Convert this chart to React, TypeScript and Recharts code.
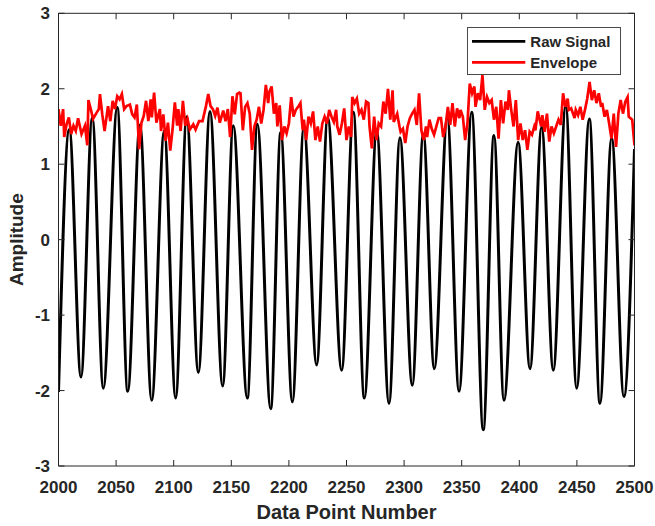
import React from 'react';
import { LineChart, Line, XAxis, YAxis, Legend } from 'recharts';

const AXIS = '#262626';
const FONT = '"Liberation Sans", Arial, Helvetica, sans-serif';

const xTicks = [2000, 2050, 2100, 2150, 2200, 2250, 2300, 2350, 2400, 2450, 2500];
const yTicks = [-3, -2, -1, 0, 1, 2, 3];
const xDomain = [2000, 2500];
const yDomain = [-3, 3];

const seriesNames = ['Raw Signal', 'Envelope'];
const seriesColors = ['#000000', '#ff0000'];

// Raw signal: start, alternating peaks and troughs, end
const rawPoints: [number, number][] = [
  [2000, -2.02], [2009.4, 1.46], [2019.5, -1.82], [2029.3, 1.62], [2038.9, -1.97],
  [2051, 1.75], [2060.1, -2.01], [2070.7, 1.52], [2080.9, -2.13], [2091.8, 1.44],
  [2101.7, -2.1], [2111.3, 1.63], [2121.4, -1.76], [2131.5, 1.7], [2142.5, -1.94],
  [2151.7, 1.51], [2163.9, -2.1], [2172.6, 1.53], [2184.2, -2.24], [2192.9, 1.42],
  [2203, -2.15], [2213, 1.49], [2224.1, -1.66], [2233.7, 1.62], [2245.8, -1.73],
  [2255.9, 1.69], [2265.5, -2.1], [2276.2, 1.44], [2286.9, -2.17], [2296.4, 1.35],
  [2307.1, -1.93], [2316.7, 1.4], [2326.2, -1.71], [2337.5, 1.62], [2347.7, -2.01],
  [2358.7, 1.69], [2368.7, -2.52], [2378, 1.38], [2386.7, -2.13], [2399, 1.29],
  [2409.3, -1.71], [2419.4, 1.49], [2429.5, -1.73], [2440.3, 1.77], [2449.8, -1.97],
  [2460.8, 1.6], [2470, -2.17], [2480.2, 1.35], [2490.8, -2.08], [2500, 1.2],
];

// Envelope, read in three stretches
const envelopeA: [number, number][] = [
  [2000, 1.73], [2002, 1.51], [2004, 1.73], [2005, 1.36], [2007, 1.53], [2009, 1.62],
  [2011, 1.4], [2013, 1.51], [2015, 1.44], [2017, 1.61], [2020, 1.4], [2023, 1.51],
  [2025, 1.25], [2026, 1.85], [2028, 1.73], [2030, 1.6], [2033, 1.68], [2035, 1.73],
  [2036, 1.93], [2038, 1.66], [2040, 1.44], [2043, 1.77], [2045, 1.57], [2047, 1.84],
  [2049, 1.73], [2051, 1.9], [2053, 1.86], [2055, 1.93], [2057, 1.73], [2059, 1.77],
  [2062, 1.79], [2064, 1.66], [2066, 1.62], [2068, 1.79], [2070, 1.2], [2072, 1.55],
  [2074, 1.64], [2076, 1.84], [2078, 1.57], [2080, 1.86], [2081, 1.62], [2083, 1.95],
  [2085, 1.55], [2088, 1.73], [2089, 1.44], [2091, 1.66], [2093, 1.31], [2095, 1.55],
  [2097, 1.18], [2099, 1.46], [2101, 1.82], [2103, 1.51], [2104, 1.73], [2106, 1.44],
  [2108, 1.84], [2110, 1.51], [2112, 1.6], [2114, 1.46], [2117, 1.53], [2119, 1.46],
  [2122, 1.57], [2125, 1.57], [2128, 1.77], [2130, 1.93], [2132, 1.77], [2134, 1.73],
  [2136, 1.64], [2138, 1.75], [2140, 1.55], [2143, 1.71], [2145, 1.57], [2147, 1.73],
  [2149, 1.36], [2151, 1.9], [2153, 1.66], [2155, 1.93], [2157, 1.95],
];
const envelopeB: [number, number][] = [
  [2158, 1.94], [2160, 1.45], [2162, 1.76], [2164, 1.81], [2166, 1.67], [2168, 1.19],
  [2170, 1.5], [2172, 1.59], [2174, 1.76], [2176, 1.54], [2178, 1.72], [2180, 2.05],
  [2182, 1.81], [2183, 1.96], [2185, 2.03], [2187, 1.67], [2189, 1.81], [2190, 1.5],
  [2192, 1.78], [2194, 1.32], [2196, 1.5], [2198, 1.41], [2200, 1.54], [2202, 1.89],
  [2204, 1.63], [2206, 1.72], [2208, 1.76], [2210, 1.81], [2212, 1.45], [2213, 1.59],
  [2215, 1.32], [2217, 1.63], [2219, 1.54], [2221, 1.7], [2223, 1.32], [2225, 1.5],
  [2227, 1.3], [2229, 1.54], [2231, 1.63], [2233, 1.54], [2235, 1.72], [2237, 1.63],
  [2239, 1.56], [2241, 1.72], [2242, 1.5], [2244, 1.39], [2246, 1.54], [2248, 1.74],
  [2250, 1.32], [2252, 1.5], [2254, 1.36], [2255, 1.89], [2257, 1.81], [2259, 1.87],
  [2261, 1.67], [2263, 1.72], [2265, 1.59], [2267, 1.83], [2269, 1.81], [2270, 1.5],
  [2272, 1.21], [2274, 1.63], [2276, 1.32], [2278, 1.54], [2280, 1.5], [2282, 1.83],
  [2284, 1.67], [2286, 2.0], [2288, 1.59], [2290, 1.98], [2291, 1.56], [2294, 1.67],
  [2296, 1.5], [2297, 1.43], [2299, 1.47], [2301, 1.28], [2303, 1.5], [2305, 1.61],
  [2307, 1.67], [2309, 1.72], [2311, 1.52], [2313, 1.94], [2315, 1.45], [2317, 1.32],
  [2319, 1.5], [2320, 1.36], [2322, 1.59], [2324, 1.47], [2326, 1.39], [2328, 1.5],
  [2330, 1.61],
];
const envelopeC: [number, number][] = [
  [2332, 1.61], [2334, 1.36], [2336, 1.5], [2338, 1.76], [2340, 1.52], [2342, 1.81],
  [2344, 1.5], [2346, 1.74], [2348, 1.61], [2349, 1.72], [2351, 1.63], [2353, 1.32],
  [2355, 1.54], [2357, 2.07], [2359, 1.94], [2361, 2.03], [2362, 1.76], [2364, 1.94],
  [2366, 1.85], [2368, 2.18], [2370, 1.72], [2372, 1.89], [2374, 1.81], [2376, 1.85],
  [2378, 1.59], [2380, 1.76], [2382, 1.34], [2384, 1.85], [2386, 1.54], [2388, 1.83],
  [2390, 1.72], [2391, 1.98], [2393, 1.72], [2395, 1.5], [2397, 1.85], [2399, 1.32],
  [2401, 1.54], [2403, 1.32], [2405, 1.45], [2407, 1.19], [2409, 1.43], [2411, 1.39],
  [2413, 1.5], [2414, 1.45], [2416, 1.7], [2419, 1.5], [2420, 1.65], [2422, 1.43],
  [2424, 1.67], [2426, 1.3], [2428, 1.5], [2430, 1.41], [2432, 1.5], [2434, 1.59],
  [2436, 1.52], [2438, 1.94], [2440, 1.76], [2442, 1.87], [2443, 1.72], [2445, 1.74],
  [2448, 1.61], [2449, 1.72], [2451, 1.65], [2453, 1.76], [2455, 1.59], [2457, 1.72],
  [2459, 1.87], [2461, 2.09], [2463, 1.85], [2465, 1.98], [2467, 1.81], [2469, 1.94],
  [2471, 1.76], [2472, 1.81], [2474, 1.63], [2476, 1.72], [2478, 1.54], [2480, 1.34],
  [2482, 1.67], [2484, 1.23], [2486, 1.67], [2488, 1.85], [2490, 1.67], [2492, 1.83],
  [2494, 1.89], [2495, 1.63], [2498, 1.59], [2500, 1.25],
];

const toRows = (pts: [number, number][]) => pts.map(([x, y]) => ({ x, y }));
const rawData = toRows(rawPoints);
const envelopeData = toRows([...envelopeA, ...envelopeB, ...envelopeC]);

const TICK_LEN = 6;

const BottomTick = (props: any) => {
  const { x, y, payload } = props;
  return (
    <g>
      <line x1={x} y1={y} x2={x} y2={y - TICK_LEN} stroke={AXIS} strokeWidth={1} />
      <text x={x} y={y + 26.5} textAnchor="middle" fill={AXIS} fontSize={17} fontWeight="bold" fontFamily={FONT}>
        {payload.value}
      </text>
    </g>
  );
};
const TopTick = (props: any) => {
  const { x, y } = props;
  return <line x1={x} y1={y} x2={x} y2={y + TICK_LEN} stroke={AXIS} strokeWidth={1} />;
};
const LeftTick = (props: any) => {
  const { x, y, payload } = props;
  return (
    <g>
      <line x1={x} y1={y} x2={x + TICK_LEN} y2={y} stroke={AXIS} strokeWidth={1} />
      <text x={x - 8.5} y={y} dy="0.36em" textAnchor="end" fill={AXIS} fontSize={17} fontWeight="bold" fontFamily={FONT}>
        {payload.value}
      </text>
    </g>
  );
};
const RightTick = (props: any) => {
  const { x, y } = props;
  return <line x1={x} y1={y} x2={x - TICK_LEN} y2={y} stroke={AXIS} strokeWidth={1} />;
};

const XTitle = (props: any) => {
  const vb = props.viewBox || { x: 58.5, y: 466, width: 576, height: 60 };
  return (
    <text x={vb.x + vb.width / 2} y={vb.y + vb.height - 7} textAnchor="middle" fill={AXIS} fontSize={20} fontWeight="bold" fontFamily={FONT}>
      Data Point Number
    </text>
  );
};
const YTitle = (props: any) => {
  const vb = props.viewBox || { x: 0, y: 13.3, width: 58.5, height: 452.7 };
  const cx = 23.5;
  const cy = vb.y + vb.height / 2;
  return (
    <text x={cx} y={cy} transform={`rotate(-90, ${cx}, ${cy})`} textAnchor="middle" fill={AXIS} fontSize={19} fontWeight="bold" fontFamily={FONT}>
      Amplitude
    </text>
  );
};

const LegendBox = () => {
  return (
    <div style={{ width: 154.5, height: 47.7, boxSizing: 'border-box', border: '1px solid #4a4a4a', background: '#ffffff' }}>
      <svg width={152.5} height={45.7} style={{ display: 'block' }}>
        {seriesNames.map((name, i) => {
          const cy = 13.4 + i * 21;
          return (
            <g key={name}>
              <line x1={4} y1={cy} x2={57.3} y2={cy} stroke={seriesColors[i]} strokeWidth={2.8} />
              <text x={62.3} y={cy} dy="0.36em" fill={AXIS} fontSize={15} fontWeight="bold" fontFamily={FONT}>
                {name}
              </text>
            </g>
          );
        })}
      </svg>
    </div>
  );
};

export default function App() {
  return (
    <div style={{ width: 655, height: 526, background: '#ffffff' }}>
      <style>{'html, body { margin: 0; padding: 0; background: #ffffff; }'}</style>
      <LineChart
        width={655}
        height={526}
        margin={{ top: 12.3, right: 19.5, bottom: 0, left: 0 }}
      >
        <XAxis
          xAxisId="bottom"
          type="number"
          dataKey="x"
          domain={xDomain}
          ticks={xTicks}
          allowDataOverflow
          height={60}
          tickSize={0}
          tickMargin={0}
          tickLine={false}
          tick={<BottomTick />}
          axisLine={{ stroke: AXIS, strokeWidth: 1 }}
          label={<XTitle />}
        />
        <XAxis
          xAxisId="top"
          orientation="top"
          type="number"
          dataKey="x"
          domain={xDomain}
          ticks={xTicks}
          allowDataOverflow
          height={1}
          tickSize={0}
          tickMargin={0}
          tickLine={false}
          tick={<TopTick />}
          axisLine={{ stroke: AXIS, strokeWidth: 1 }}
        />
        <YAxis
          yAxisId="left"
          type="number"
          domain={yDomain}
          ticks={yTicks}
          allowDataOverflow
          width={58.5}
          tickSize={0}
          tickMargin={0}
          tickLine={false}
          tick={<LeftTick />}
          axisLine={{ stroke: AXIS, strokeWidth: 1 }}
          label={<YTitle />}
        />
        <YAxis
          yAxisId="right"
          orientation="right"
          type="number"
          domain={yDomain}
          ticks={yTicks}
          allowDataOverflow
          width={1}
          tickSize={0}
          tickMargin={0}
          tickLine={false}
          tick={<RightTick />}
          axisLine={{ stroke: AXIS, strokeWidth: 1 }}
        />
        <Legend
          layout="vertical"
          align="center"
          verticalAlign="middle"
          wrapperStyle={{ left: 466.7, top: 27.3, width: 154.5, height: 47.7 }}
          content={<LegendBox />}
        />
        <Line
          xAxisId="bottom"
          yAxisId="left"
          data={rawData}
          dataKey="y"
          name={seriesNames[0]}
          type="monotone"
          stroke={seriesColors[0]}
          strokeWidth={3}
          dot={false}
          activeDot={false}
          isAnimationActive={false}
        />
        <Line
          xAxisId="top"
          yAxisId="right"
          data={envelopeData}
          dataKey="y"
          name={seriesNames[1]}
          type="linear"
          stroke={seriesColors[1]}
          strokeWidth={2.7}
          dot={false}
          activeDot={false}
          isAnimationActive={false}
        />
      </LineChart>
    </div>
  );
}
